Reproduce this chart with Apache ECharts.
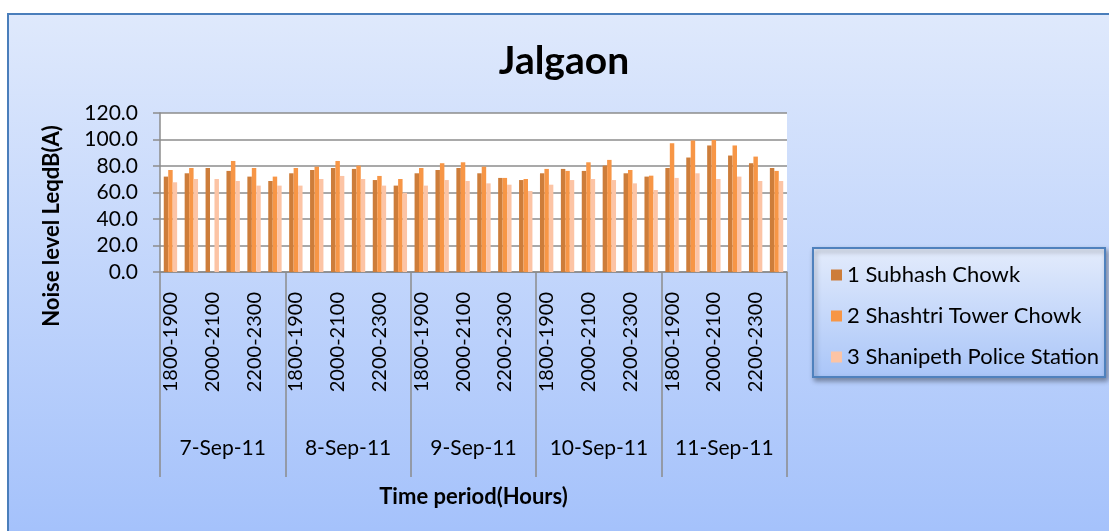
<!DOCTYPE html>
<html>
<head>
<meta charset="utf-8">
<script src="https://cdn.jsdelivr.net/npm/echarts@6/dist/echarts.min.js"></script>
<style>
  html, body { margin: 0; padding: 0; background: #fff; }
  #chart { width: 1109px; height: 531px; }
</style>
</head>
<body>
<div id="chart"></div>
<script>
// time periods within each day (hours)
const periods = ['1800-1900', '1900-2000', '2000-2100', '2100-2200', '2200-2300', '2300-2400']
const days = ['7-Sep-11', '8-Sep-11', '9-Sep-11', '10-Sep-11', '11-Sep-11']
const yTicks = [0, 20, 40, 60, 80, 100, 120]

// Leq dB(A), 6 periods per day
const subhashChowk = [
  72.0, 74.5, 78.5, 76.3, 72.0, 68.7,
  74.5, 77.0, 78.5, 77.8, 69.4, 65.2,
  74.5, 77.0, 78.5, 74.5, 71.0, 69.4,
  74.5, 77.8, 76.3, 80.3, 74.5, 72.0,
  78.5, 86.4, 95.5, 87.9, 82.1, 78.5
]
const shashtriTowerChowk = [
  77.0, 78.5, null, 83.8, 78.5, 72.0,
  78.5, 79.5, 83.8, 80.3, 72.5, 70.2,
  78.5, 82.1, 82.8, 79.5, 71.0, 70.2,
  77.8, 76.3, 82.8, 84.6, 77.0, 72.7,
  97.2, 99.2, 99.7, 95.5, 87.1, 76.3
]
const shanipethPolice = [
  67.7, 70.2, 70.2, 68.7, 65.2, 65.2,
  65.2, 70.2, 72.5, 70.2, 65.2, 59.8,
  65.2, 69.4, 68.7, 66.9, 65.9, 61.1,
  65.9, 69.4, 70.2, 69.4, 66.9, 61.9,
  71.0, 74.5, 70.2, 72.0, 68.7, 68.7
]

const categories = []
days.forEach(d => periods.forEach(p => categories.push(p)))

const FONT = 'Lato'
const chart = echarts.init(document.getElementById('chart'))

chart.setOption({
  animation: false,
  textStyle: { fontFamily: FONT, color: '#000' },
  graphic: [
    {
      type: 'rect',
      z: -100,
      shape: { x: 8, y: 14, width: 1120, height: 540 },
      style: {
        fill: new echarts.graphic.LinearGradient(0, 0, 0, 1, [
          { offset: 0, color: '#dfe9fc' },
          { offset: 1, color: '#a2c0fb' }
        ]),
        stroke: '#4a7ebb',
        lineWidth: 2
      }
    },
    {
      type: 'text',
      x: 564,
      y: 61,
      style: {
        text: 'Jalgaon',
        fontFamily: FONT,
        fontWeight: 'bold',
        fontSize: 39,
        fill: '#000',
        align: 'center',
        verticalAlign: 'middle'
      }
    },
    {
      type: 'text',
      x: 52,
      y: 226,
      rotation: Math.PI / 2,
      style: {
        text: 'Noise level LeqdB(A)',
        fontFamily: FONT,
        fontWeight: 'bold',
        fontSize: 22,
        fill: '#000',
        align: 'center',
        verticalAlign: 'middle'
      }
    },
    {
      type: 'rect',
      z: 1,
      shape: { x: 813, y: 248, width: 292, height: 129 },
      style: {
        fill: new echarts.graphic.LinearGradient(0, 0, 0, 1, [
          { offset: 0, color: '#e4ecfc' },
          { offset: 1, color: '#a9c5f8' }
        ]),
        stroke: '#4f81bd',
        lineWidth: 2,
        shadowBlur: 5,
        shadowOffsetX: 2,
        shadowOffsetY: 3,
        shadowColor: 'rgba(0,0,0,0.35)'
      }
    }
  ],
  legend: {
    orient: 'vertical',
    left: 826,
    top: 259,
    z: 5,
    icon: 'rect',
    itemWidth: 11,
    itemHeight: 11,
    itemGap: 19,
    selectedMode: false,
    textStyle: { fontFamily: FONT, fontSize: 22, color: '#000' }
  },
  grid: {
    left: 160,
    top: 113,
    width: 627,
    height: 159,
    show: true,
    backgroundColor: '#fff',
    borderWidth: 0
  },
  xAxis: [
    {
      type: 'category',
      position: 'bottom',
      data: categories,
      axisLine: { lineStyle: { color: '#8c8c8c', width: 1.5 } },
      axisTick: { show: false },
      splitLine: { show: false },
      axisLabel: {
        interval: 1,
        rotate: 90,
        margin: 20,
        fontSize: 20,
        color: '#000'
      }
    },
    {
      type: 'category',
      position: 'bottom',
      data: days,
      axisLine: { show: false },
      axisTick: { show: true, interval: 0, length: 205, lineStyle: { color: '#8c8c8c', width: 1.5 } },
      splitLine: { show: false },
      axisLabel: { interval: 0, margin: 166, fontSize: 21, color: '#000' },
      name: 'Time period(Hours)',
      nameLocation: 'middle',
      nameGap: 214,
      nameTextStyle: { fontFamily: FONT, fontWeight: 'bold', fontSize: 22, color: '#000' }
    }
  ],
  yAxis: {
    type: 'value',
    min: yTicks[0],
    max: yTicks[yTicks.length - 1],
    interval: yTicks[1] - yTicks[0],
    axisLine: { show: true, lineStyle: { color: '#8c8c8c', width: 1.5 } },
    axisTick: { show: true, length: 7, lineStyle: { color: '#8c8c8c', width: 1.5 } },
    splitLine: { lineStyle: { color: '#8c8c8c', width: 1.5 } },
    axisLabel: {
      margin: 22,
      fontSize: 21,
      color: '#000',
      formatter: v => v.toFixed(1)
    }
  },
  series: [
    {
      name: '1 Subhash Chowk',
      type: 'bar',
      xAxisIndex: 0,
      data: subhashChowk,
      barGap: '0%',
      barCategoryGap: '36%',
      itemStyle: { color: '#cd7d3a' }
    },
    {
      name: '2 Shashtri Tower Chowk',
      type: 'bar',
      xAxisIndex: 0,
      data: shashtriTowerChowk,
      itemStyle: { color: '#f79646' }
    },
    {
      name: '3 Shanipeth Police Station',
      type: 'bar',
      xAxisIndex: 0,
      data: shanipethPolice,
      itemStyle: { color: '#fcc4a5' }
    }
  ]
})
</script>
</body>
</html>
